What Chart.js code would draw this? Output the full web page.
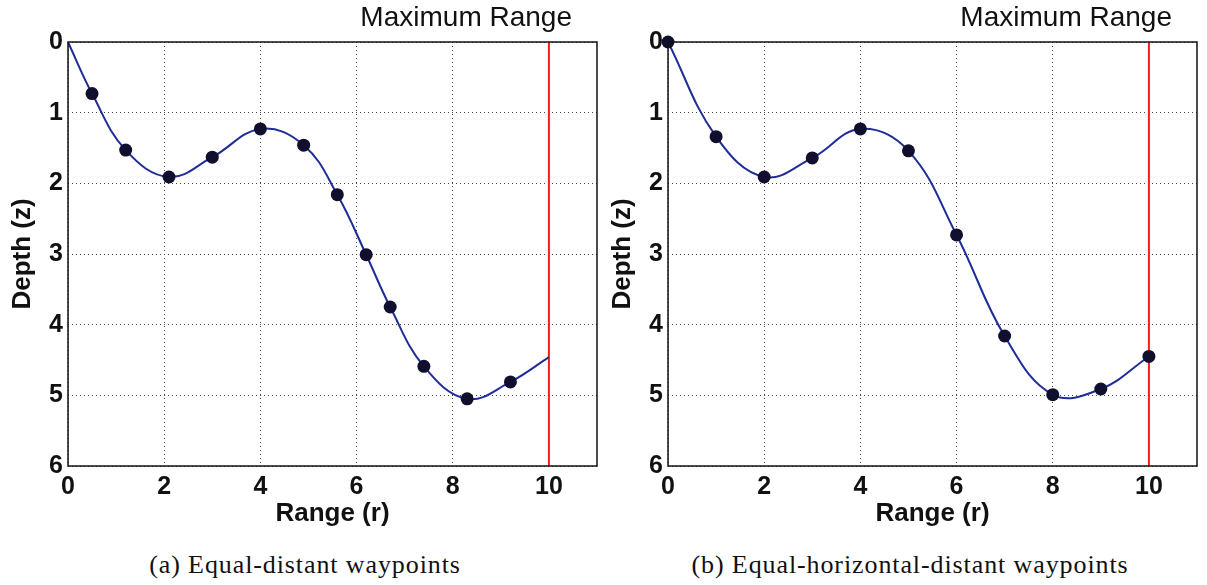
<!DOCTYPE html>
<html>
<head>
<meta charset="utf-8">
<script src="https://cdn.jsdelivr.net/npm/chart.js@4.4.0/dist/chart.umd.min.js"></script>
<style>
  body { margin: 0; background: #fff; width: 1207px; height: 585px; position: relative; overflow: hidden; }
  .plot { position: absolute; top: 0; width: 610px; height: 540px; }
  .caption { position: absolute; top: 550px; font-family: "Liberation Serif", serif; font-size: 26px; color: #111;
             letter-spacing: 0.9px; white-space: nowrap; transform: translateX(-50%); }
</style>
</head>
<body>
<div class="plot" style="left:0"><canvas id="chartA"></canvas></div>
<div class="plot" style="left:600px"><canvas id="chartB"></canvas></div>
<div class="caption" style="left:305px">(a) Equal-distant waypoints</div>
<div class="caption" style="left:910px">(b) Equal-horizontal-distant waypoints</div>
<script>
// axes
const rangeTicks = [0, 2, 4, 6, 8, 10];
const depthTicks = [0, 1, 2, 3, 4, 5, 6];
const maxRange = 10;

// (a) equal-distant waypoints along the path
const equalDistR = [0.5, 1.2, 2.1, 3.0, 4.0, 4.9, 5.6, 6.2, 6.7, 7.4, 8.3, 9.2];
const equalDistZ = [0.73, 1.53, 1.91, 1.63, 1.23, 1.46, 2.16, 3.01, 3.75, 4.59, 5.05, 4.81];
const pathStartA = { r: 0, z: 0 };
const pathEndA = { r: 10, z: 4.46 };

// (b) equal-horizontal-distant waypoints
const equalHorizR = [0, 1, 2, 3, 4, 5, 6, 7, 8, 9, 10];
const equalHorizZ = [0, 1.34, 1.91, 1.64, 1.23, 1.54, 2.73, 4.16, 4.99, 4.91, 4.45];

const sans = '"Liberation Sans", Arial, sans-serif';

const toPoints = (rs, zs) => rs.map((r, i) => ({ x: r, y: zs[i] }));

// box round the plot area plus the "Maximum Range" label
const framePlugin = {
    id: 'frame',
    afterDraw(chart) {
        const { ctx, chartArea: a } = chart;
        ctx.save();
        ctx.strokeStyle = '#111';
        ctx.lineWidth = 1.5;
        ctx.strokeRect(a.left, a.top, a.right - a.left, a.bottom - a.top);
        ctx.fillStyle = '#111';
        ctx.font = '28px ' + sans;
        ctx.textAlign = 'right';
        ctx.textBaseline = 'alphabetic';
        ctx.fillText('Maximum Range', a.right - 25, 26);
        ctx.restore();
    }
};

function makeChart(id, dots, curve) {
    const ctx = document.getElementById(id).getContext('2d');
    return new Chart(ctx, {
        type: 'scatter',
        data: {
            datasets: [
                {
                    data: dots,
                    showLine: false,
                    pointRadius: 6.5,
                    pointHoverRadius: 6.5,
                    pointBackgroundColor: '#10102e',
                    pointBorderWidth: 0,
                    clip: false,
                    order: 1
                },
                {
                    data: curve,
                    showLine: true,
                    borderColor: '#1f2d96',
                    borderWidth: 2,
                    tension: 0.4,
                    pointRadius: 0,
                    order: 2
                },
                {
                    data: [{ x: maxRange, y: depthTicks[0] }, { x: maxRange, y: depthTicks[depthTicks.length - 1] }],
                    showLine: true,
                    borderColor: '#ff1a1a',
                    borderWidth: 2,
                    pointRadius: 0,
                    order: 3
                }
            ]
        },
        options: {
            responsive: true,
            maintainAspectRatio: false,
            animation: false,
            layout: { padding: { top: 42, right: 13, left: 0, bottom: 0 } },
            plugins: { legend: { display: false }, tooltip: { enabled: false } },
            scales: {
                x: {
                    type: 'linear',
                    min: 0,
                    max: 11,
                    afterBuildTicks: s => { s.ticks = rangeTicks.map(v => ({ value: v })); },
                    afterFit: s => { s.height = 74; },
                    ticks: { color: '#111', font: { family: sans, size: 25, weight: 'bold' }, padding: 6, maxRotation: 0, autoSkip: false },
                    grid: { color: '#444', lineWidth: 1, drawTicks: false },
                    border: { display: false, dash: [1, 3] },
                    title: { display: true, text: 'Range (r)', color: '#111', font: { family: sans, size: 26, weight: 'bold' }, padding: { top: 0, bottom: 11 } }
                },
                y: {
                    type: 'linear',
                    reverse: true,
                    min: 0,
                    max: 6,
                    afterBuildTicks: s => { s.ticks = depthTicks.map(v => ({ value: v })); },
                    afterFit: s => { s.width = 68; },
                    ticks: { color: '#111', font: { family: sans, size: 25, weight: 'bold' }, padding: 5, autoSkip: false },
                    grid: { color: '#444', lineWidth: 1, drawTicks: false },
                    border: { display: false, dash: [1, 3] },
                    title: { display: true, text: 'Depth (z)', color: '#111', font: { family: sans, size: 26, weight: 'bold' }, padding: { top: 7, bottom: 0 } }
                }
            }
        },
        plugins: [framePlugin]
    });
}

const waypointsA = toPoints(equalDistR, equalDistZ);
const curveA = [{ x: pathStartA.r, y: pathStartA.z }, ...waypointsA, { x: pathEndA.r, y: pathEndA.z }];
makeChart('chartA', waypointsA, curveA);

const waypointsB = toPoints(equalHorizR, equalHorizZ);
makeChart('chartB', waypointsB, waypointsB);
</script>
</body>
</html>
